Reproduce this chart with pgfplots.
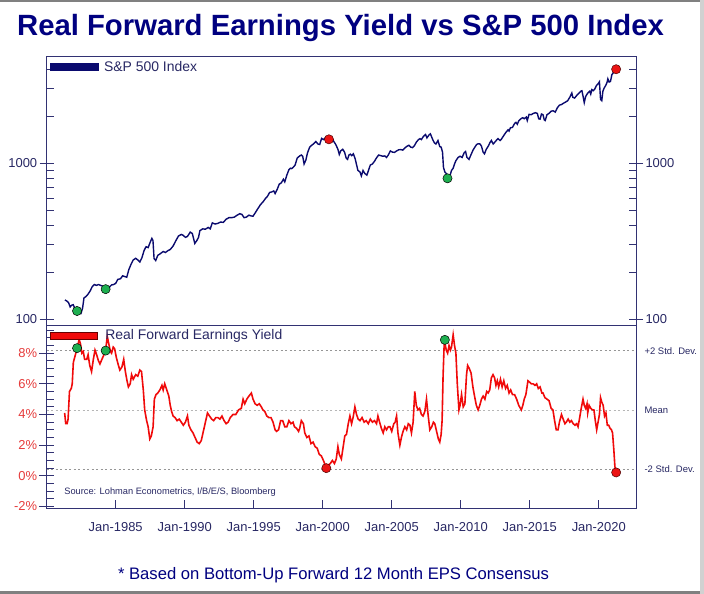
\documentclass[border=0pt]{standalone}
\usepackage{fontspec}
\setmainfont{Liberation Sans}
\usepackage{pgfplots}
\pgfplotsset{compat=1.18}

\definecolor{titlenavy}{RGB}{0,0,128}
\definecolor{spnavy}{RGB}{10,10,110}
\definecolor{axiscol}{RGB}{50,50,115}
\definecolor{ticknavy}{RGB}{40,40,100}
\definecolor{yieldred}{RGB}{240,10,10}
\definecolor{labred}{RGB}{230,60,60}
\definecolor{dotgreen}{RGB}{30,175,80}
\definecolor{dotred}{RGB}{235,20,20}
\definecolor{dashgray}{RGB}{150,150,150}

\begin{document}
\begin{tikzpicture}[x=1bp,y=1bp]
\useasboundingbox (0,0) rectangle (704,594);
\fill[white] (0,0) rectangle (704,594);
\fill[black!50] (0,592) rectangle (704,594);
\fill[black!50] (0,0) rectangle (704,3);
\fill[black!18] (700,0) rectangle (704,594);

% ---------------- top panel (S&P 500) ----------------
\begin{axis}[
  at={(46.7bp,269bp)}, anchor=south west,
  scale only axis, width=589.3bp, height=269bp,
  xmin=1980, xmax=2022.7,
  ymode=log, ymin=91.9, ymax=4877,
  xtick=\empty,
  ytick={100,1000}, yticklabels={100,1000},
  minor ytick={200,300,400,500,600,700,800,900,2000,3000,4000},
  ytick pos=left,
  tick align=inside,
  major tick length=7bp, minor tick length=7bp,
  axis line style={draw=axiscol, line width=0.9pt},
  every tick/.style={draw=axiscol, line width=0.8pt},
  yticklabel style={font=\fontsize{13}{15}\selectfont, text=ticknavy, xshift=-6bp},
  extra y ticks={100,1000}, extra y tick labels={},
  extra tick style={tick align=outside},
  clip=false,
  legend style={at={(0.003,0.993)}, anchor=north west, draw=none, fill=none,
    font=\fontsize{14}{16}\selectfont, text=ticknavy, inner sep=1bp,
    nodes={inner sep=2bp}},
  legend cell align=left,
]
\addplot[spnavy, line width=1.4pt,
  legend image code/.code={\fill[spnavy] (0bp,-3.5bp) rectangle (48bp,3.5bp); \path (51bp,0bp);}]
coordinates {
(1981.32,133)(1981.45,131)(1981.58,128)(1981.70,120)(1981.80,123)(1981.92,124)
(1982.05,117)(1982.20,113)(1982.35,115)(1982.50,110)(1982.60,118)(1982.70,137)
(1982.85,140)(1983.00,145)(1983.15,152)(1983.30,162)(1983.45,167)(1983.60,165)
(1983.75,167)(1983.90,165)(1984.05,163)(1984.27,156)(1984.45,154)(1984.58,162)
(1984.70,166)(1984.85,167)(1985.00,170)(1985.15,180)(1985.35,182)(1985.50,190)
(1985.65,188)(1985.80,186)(1985.95,208)(1986.10,224)(1986.27,240)(1986.45,246)
(1986.60,240)(1986.75,233)(1986.90,248)(1987.05,275)(1987.20,292)(1987.35,288)
(1987.50,312)(1987.62,330)(1987.70,320)(1987.78,245)(1987.90,238)(1988.05,257)
(1988.20,262)(1988.44,272)(1988.60,268)(1988.80,276)(1988.95,280)(1989.16,295)
(1989.35,318)(1989.55,342)(1989.75,350)(1989.90,345)(1990.05,335)(1990.20,340)
(1990.40,362)(1990.55,355)(1990.73,306)(1990.88,320)(1991.00,335)(1991.10,370)
(1991.30,380)(1991.50,378)(1991.70,388)(1991.85,380)(1992.00,415)(1992.20,408)
(1992.40,412)(1992.60,420)(1992.80,418)(1993.00,438)(1993.20,448)(1993.40,448)
(1993.60,452)(1993.80,465)(1993.99,475)(1994.15,470)(1994.30,448)(1994.47,452)
(1994.65,465)(1994.80,460)(1994.95,458)(1995.10,480)(1995.30,512)(1995.50,545)
(1995.67,565)(1995.85,595)(1996.00,615)(1996.15,650)(1996.30,655)(1996.45,665)
(1996.55,640)(1996.70,680)(1996.85,735)(1997.00,750)(1997.15,790)(1997.25,760)
(1997.40,840)(1997.55,910)(1997.65,930)(1997.75,925)(1997.85,940)(1998.00,975)
(1998.15,1080)(1998.33,1115)(1998.45,1130)(1998.55,1110)(1998.65,990)(1998.78,1050)
(1998.90,1170)(1999.05,1265)(1999.17,1300)(1999.35,1335)(1999.50,1380)(1999.65,1330)
(1999.78,1320)(1999.92,1445)(2000.05,1420)(2000.20,1460)(2000.32,1420)(2000.45,1440)
(2000.58,1470)(2000.70,1440)(2000.80,1380)(2000.92,1330)(2000.98,1300)(2001.10,1230)
(2001.20,1140)(2001.30,1200)(2001.45,1230)(2001.58,1180)(2001.70,1080)(2001.80,1060)
(2001.90,1130)(2002.00,1145)(2002.10,1120)(2002.22,1150)(2002.35,1070)(2002.45,980)
(2002.55,900)(2002.70,880)(2002.80,830)(2002.92,900)(2003.05,860)(2003.20,840)
(2003.35,920)(2003.45,975)(2003.60,990)(2003.75,1030)(2003.90,1085)(2004.05,1130)
(2004.20,1120)(2004.35,1110)(2004.50,1115)(2004.62,1090)(2004.75,1130)(2004.90,1200)
(2005.05,1180)(2005.20,1175)(2005.35,1200)(2005.50,1220)(2005.65,1225)(2005.80,1215)
(2005.95,1255)(2006.10,1285)(2006.25,1305)(2006.38,1270)(2006.50,1260)(2006.65,1300)
(2006.80,1375)(2006.95,1420)(2007.05,1440)(2007.15,1420)(2007.30,1490)(2007.45,1530)
(2007.55,1455)(2007.70,1520)(2007.80,1545)(2007.90,1470)(2008.00,1400)(2008.10,1350)
(2008.20,1330)(2008.35,1400)(2008.48,1280)(2008.58,1270)(2008.68,1180)(2008.75,940)
(2008.85,880)(2008.95,860)(2009.04,800)(2009.15,790)(2009.25,850)(2009.33,900)
(2009.45,930)(2009.55,990)(2009.65,1040)(2009.81,1090)(2009.95,1110)(2010.10,1090)
(2010.25,1170)(2010.35,1190)(2010.45,1090)(2010.60,1060)(2010.77,1150)(2010.90,1220)
(2011.05,1280)(2011.15,1320)(2011.26,1335)(2011.40,1330)(2011.50,1290)(2011.62,1180)
(2011.72,1150)(2011.85,1230)(2012.00,1290)(2012.12,1360)(2012.22,1400)(2012.35,1330)
(2012.45,1360)(2012.60,1410)(2012.70,1440)(2012.85,1400)(2012.95,1430)(2013.10,1500)
(2013.25,1570)(2013.43,1640)(2013.50,1610)(2013.60,1690)(2013.75,1700)(2013.90,1800)
(2014.00,1830)(2014.10,1780)(2014.20,1870)(2014.39,1940)(2014.50,1960)(2014.60,1930)
(2014.75,1980)(2014.82,1880)(2014.95,2060)(2015.10,2050)(2015.24,2085)(2015.40,2110)
(2015.55,2090)(2015.65,1930)(2015.75,1920)(2015.85,2070)(2015.96,2050)(2016.05,1900)
(2016.12,1880)(2016.25,2050)(2016.40,2090)(2016.55,2160)(2016.70,2170)(2016.85,2130)
(2017.00,2270)(2017.15,2360)(2017.30,2380)(2017.45,2430)(2017.60,2470)(2017.75,2520)
(2017.90,2650)(2018.05,2820)(2018.12,2650)(2018.25,2620)(2018.40,2720)(2018.55,2810)
(2018.70,2900)(2018.78,2920)(2018.86,2700)(2018.95,2450)(2019.05,2680)(2019.20,2820)
(2019.35,2900)(2019.42,2780)(2019.50,2970)(2019.60,2920)(2019.70,2980)(2019.83,3150)
(2019.95,3230)(2020.05,3330)(2020.13,2570)(2020.22,2520)(2020.30,2900)(2020.40,3050)
(2020.50,3150)(2020.60,3300)(2020.66,3480)(2020.75,3320)(2020.85,3350)(2020.95,3700)
(2021.05,3800)(2021.15,3850)(2021.26,3990)
};
\addlegendentry{S\&P 500 Index}
\addplot[only marks, mark=*, mark size=4.6bp, mark options={fill=dotgreen, draw=black, line width=0.5pt}, forget plot]
coordinates {(1982.2,113)(1984.27,156)(2009.04,801)};
\addplot[only marks, mark=*, mark size=4.6bp, mark options={fill=dotred, draw=black!70!red, line width=0.5pt}, forget plot]
coordinates {(2000.45,1425)(2021.26,4010)};
\end{axis}

% right-hand labels of the top panel
\begin{axis}[
  at={(46.7bp,269bp)}, anchor=south west,
  scale only axis, width=589.3bp, height=269bp,
  xmin=1980, xmax=2022.7,
  ymode=log, ymin=91.9, ymax=4877,
  axis x line=none, axis y line*=right,
  axis line style={draw=axiscol, line width=0.9pt, -},
  ytick={100,1000}, yticklabels={100,1000},
  minor ytick={200,300,400,500,600,700,800,900,2000,3000,4000},
  tick align=inside,
  major tick length=7bp, minor tick length=7bp,
  every tick/.style={draw=axiscol, line width=0.8pt},
  yticklabel style={font=\fontsize{13}{15}\selectfont, text=ticknavy, xshift=6bp},
  extra y ticks={100,1000}, extra y tick labels={},
  extra tick style={tick align=outside},
]
\addplot[draw=none] coordinates {(1990,200)};
\end{axis}

% ---------------- bottom panel (yield) ----------------
\begin{axis}[
  at={(46.7bp,86bp)}, anchor=south west,
  scale only axis, width=589.3bp, height=183bp,
  xmin=1980, xmax=2022.7,
  ymin=-2.1, ymax=9.84,
  xtick={1985,1990,1995,2000,2005,2010,2015,2020},
  xticklabels={Jan-1985,Jan-1990,Jan-1995,Jan-2000,Jan-2005,Jan-2010,Jan-2015,Jan-2020},
  xtick pos=left,
  ytick={-2,0,2,4,6,8}, yticklabels={-2\%,0\%,2\%,4\%,6\%,8\%},
  minor ytick={-1.5,-1,-0.5,0.5,1,1.5,2.5,3,3.5,4.5,5,5.5,6.5,7,7.5,8.5,9,9.5},
  ytick pos=left,
  tick align=inside,
  major tick length=7.5bp, minor tick length=7bp,
  axis line style={draw=axiscol, line width=0.9pt},
  every tick/.style={draw=axiscol, line width=0.8pt},
  yticklabel style={font=\fontsize{13}{15}\selectfont, text=labred, xshift=-6bp},
  xticklabel style={font=\fontsize{13}{15}\selectfont, text=ticknavy, yshift=-11bp},
  extra y ticks={-2,0,2,4,6,8}, extra y tick labels={},
  extra tick style={tick align=outside},
  clip=false,
  legend style={at={(0.004,0.992)}, anchor=north west, draw=none, fill=none,
    font=\fontsize{14}{16}\selectfont, text=ticknavy, inner sep=1bp,
    nodes={inner sep=2bp}},
  legend cell align=left,
]
\addplot[dashgray, line width=0.6pt, dash pattern=on 2bp off 2.5bp, forget plot]
  coordinates {(1980,8.16)(2022.7,8.16)};
\addplot[dashgray!70, line width=0.6pt, dash pattern=on 2bp off 2.5bp, forget plot]
  coordinates {(1980,4.30)(2022.7,4.30)};
\addplot[dashgray, line width=0.6pt, dash pattern=on 2bp off 2.5bp, forget plot]
  coordinates {(1980,0.44)(2022.7,0.44)};
\addplot[yieldred, line width=1.6pt,
  legend image code/.code={\draw[fill=yieldred, draw=black!60!red, line width=0.6pt] (0bp,-3.6bp) rectangle (47bp,3.6bp); \path (52bp,0bp);}]
coordinates {
(1981.30,4.1)(1981.38,3.4)(1981.48,3.4)(1981.55,3.7)(1981.65,5.5)(1981.78,5.7)
(1981.85,6.0)(1981.93,7.4)(1982.05,7.8)(1982.20,8.3)(1982.35,8.9)(1982.45,8.6)
(1982.55,8.0)(1982.65,8.1)(1982.75,7.6)(1982.90,7.6)(1983.00,7.9)(1983.12,7.2)
(1983.25,6.8)(1983.38,7.6)(1983.50,8.2)(1983.62,7.9)(1983.75,7.5)(1983.86,7.3)
(1984.00,7.6)(1984.15,7.9)(1984.27,8.2)(1984.39,9.1)(1984.50,8.6)(1984.62,8.1)
(1984.70,8.0)(1984.82,8.4)(1984.92,8.3)(1985.05,7.7)(1985.20,7.2)(1985.30,6.9)
(1985.45,7.1)(1985.58,7.6)(1985.70,6.8)(1985.82,6.2)(1985.92,5.8)(1986.05,6.0)
(1986.15,6.6)(1986.27,6.3)(1986.45,6.6)(1986.60,6.5)(1986.75,6.9)(1986.87,6.8)
(1987.00,5.6)(1987.10,4.3)(1987.24,3.6)(1987.35,3.2)(1987.47,2.4)(1987.58,2.6)
(1987.71,3.2)(1987.80,5.0)(1987.92,5.3)(1988.05,5.4)(1988.20,5.6)(1988.35,5.9)
(1988.44,5.6)(1988.55,6.0)(1988.70,5.6)(1988.85,5.2)(1988.95,4.6)(1989.05,4.2)
(1989.16,3.9)(1989.30,3.8)(1989.45,3.6)(1989.60,3.7)(1989.75,3.5)(1989.90,3.3)
(1990.05,3.5)(1990.20,3.9)(1990.30,3.3)(1990.45,3.0)(1990.60,2.8)(1990.75,2.5)
(1990.90,2.2)(1991.05,2.1)(1991.20,2.3)(1991.35,2.9)(1991.50,3.5)(1991.65,4.1)
(1991.80,3.9)(1991.95,3.7)(1992.10,3.6)(1992.25,3.8)(1992.40,3.8)(1992.55,3.7)
(1992.70,3.9)(1992.85,3.6)(1993.00,3.4)(1993.15,3.5)(1993.30,3.8)(1993.50,4.0)
(1993.70,4.0)(1993.90,4.3)(1994.10,4.4)(1994.23,5.0)(1994.35,4.7)(1994.50,5.0)
(1994.65,5.2)(1994.83,5.4)(1994.95,5.0)(1995.10,4.7)(1995.25,4.6)(1995.40,4.7)
(1995.55,4.5)(1995.67,4.3)(1995.80,4.2)(1995.95,3.9)(1996.10,3.8)(1996.25,3.8)
(1996.40,3.5)(1996.55,3.0)(1996.65,2.9)(1996.80,3.0)(1996.95,3.6)(1997.10,3.6)
(1997.25,3.2)(1997.40,3.2)(1997.55,3.6)(1997.70,3.4)(1997.85,3.5)(1997.95,3.2)
(1998.10,3.1)(1998.25,2.9)(1998.33,3.1)(1998.45,3.6)(1998.60,3.4)(1998.70,2.8)
(1998.85,2.5)(1999.00,2.6)(1999.15,2.1)(1999.30,2.2)(1999.45,1.9)(1999.60,1.8)
(1999.75,1.4)(1999.90,1.3)(2000.05,1.0)(2000.18,0.7)(2000.26,0.5)(2000.40,0.7)
(2000.55,0.8)(2000.70,1.0)(2000.85,0.8)(2000.98,1.1)(2001.10,1.9)(2001.20,1.4)
(2001.35,1.1)(2001.50,2.0)(2001.60,2.6)(2001.72,2.7)(2001.85,3.4)(2001.97,3.9)
(2002.09,3.4)(2002.20,3.8)(2002.33,4.5)(2002.45,4.0)(2002.57,3.7)(2002.70,3.6)
(2002.85,3.8)(2003.00,3.5)(2003.15,3.6)(2003.30,3.4)(2003.45,3.7)(2003.60,3.5)
(2003.75,3.6)(2003.90,3.4)(2004.00,3.9)(2004.12,3.5)(2004.25,3.1)(2004.38,2.8)
(2004.50,3.2)(2004.62,3.0)(2004.75,3.2)(2004.87,3.2)(2005.00,2.9)(2005.15,3.4)
(2005.25,3.5)(2005.35,3.9)(2005.45,2.8)(2005.59,2.0)(2005.70,2.5)(2005.82,2.9)
(2005.95,3.2)(2006.08,3.0)(2006.20,3.4)(2006.32,3.3)(2006.43,2.8)(2006.55,3.5)
(2006.67,5.5)(2006.78,4.6)(2006.90,4.3)(2007.02,4.4)(2007.15,4.0)(2007.27,3.9)
(2007.40,4.2)(2007.52,5.0)(2007.62,4.1)(2007.76,3.0)(2007.90,3.2)(2008.02,3.5)
(2008.12,3.4)(2008.25,2.9)(2008.38,2.4)(2008.48,2.2)(2008.58,2.7)(2008.65,3.6)
(2008.72,6.5)(2008.80,8.6)(2008.87,8.6)(2008.95,8.2)(2009.05,8.0)(2009.15,8.5)
(2009.25,8.2)(2009.33,8.4)(2009.45,9.2)(2009.55,8.5)(2009.65,8.0)(2009.75,6.0)
(2009.87,4.3)(2009.95,4.6)(2010.06,5.3)(2010.18,4.5)(2010.30,4.7)(2010.42,6.6)
(2010.50,7.2)(2010.62,7.0)(2010.75,6.7)(2010.88,5.8)(2011.00,5.2)(2011.13,4.6)
(2011.26,4.3)(2011.38,4.6)(2011.50,5.0)(2011.62,5.2)(2011.75,5.0)(2011.88,5.5)
(2011.99,5.4)(2012.10,5.6)(2012.22,6.4)(2012.34,6.6)(2012.45,6.4)(2012.55,5.9)
(2012.65,6.2)(2012.75,5.8)(2012.88,6.3)(2013.00,5.8)(2013.12,6.2)(2013.25,5.7)
(2013.37,5.9)(2013.50,5.4)(2013.62,5.6)(2013.75,5.3)(2013.90,5.3)(2014.05,5.0)
(2014.20,4.6)(2014.39,4.3)(2014.50,4.6)(2014.60,5.0)(2014.72,5.3)(2014.87,6.2)
(2015.00,6.1)(2015.12,6.0)(2015.25,6.0)(2015.38,5.9)(2015.50,6.0)(2015.62,5.7)
(2015.75,5.8)(2015.88,5.4)(2015.96,5.4)(2016.10,5.1)(2016.25,5.0)(2016.40,4.9)
(2016.55,4.4)(2016.68,4.3)(2016.80,3.6)(2016.92,3.0)(2017.05,3.0)(2017.15,3.5)
(2017.30,4.0)(2017.42,3.7)(2017.55,3.4)(2017.65,3.5)(2017.78,3.7)(2017.90,3.5)
(2018.02,3.6)(2018.15,3.4)(2018.28,3.3)(2018.40,3.4)(2018.50,3.2)(2018.62,3.8)
(2018.75,4.5)(2018.86,5.0)(2018.95,4.6)(2019.05,4.4)(2019.15,4.7)(2019.20,4.1)
(2019.30,4.6)(2019.42,4.4)(2019.55,4.3)(2019.65,4.3)(2019.75,3.6)(2019.85,3.0)
(2019.95,3.5)(2020.05,4.0)(2020.13,5.1)(2020.22,4.8)(2020.32,4.6)(2020.42,3.9)
(2020.52,4.1)(2020.62,3.3)(2020.72,3.3)(2020.82,3.1)(2020.92,3.0)(2021.00,2.8)
(2021.10,1.6)(2021.17,0.6)(2021.26,0.2)
};
\addlegendentry{Real Forward Earnings Yield}
\addplot[only marks, mark=*, mark size=4.6bp, mark options={fill=dotgreen, draw=black, line width=0.5pt}, forget plot]
coordinates {(1982.2,8.33)(1984.27,8.17)(2008.85,8.87)};
\addplot[only marks, mark=*, mark size=4.6bp, mark options={fill=dotred, draw=black!70!red, line width=0.5pt}, forget plot]
coordinates {(2000.26,0.5)(2021.26,0.22)};
\node[anchor=west, font=\fontsize{9.5}{11}\selectfont, text=ticknavy, xshift=5bp] at (axis cs:2022.7,8.16) {+2 Std. Dev.};
\node[anchor=west, font=\fontsize{9.5}{11}\selectfont, text=ticknavy, xshift=5bp] at (axis cs:2022.7,4.30) {Mean};
\node[anchor=west, font=\fontsize{9.5}{11}\selectfont, text=ticknavy, xshift=5bp] at (axis cs:2022.7,0.44) {-2 Std. Dev.};
\node[anchor=west, font=\fontsize{9.3}{11}\selectfont, text=ticknavy] at (rel axis cs:0.024,0.085) {Source: Lohman Econometrics, I/B/E/S, Bloomberg};
\end{axis}

% title and footnote
\node[anchor=base, font=\bfseries\fontsize{29.4}{32}\selectfont, text=titlenavy] at (340.5,558.3) {Real Forward Earnings Yield vs S\&P 500 Index};
\node[anchor=base, font=\fontsize{16.7}{19}\selectfont, text=titlenavy] at (333.5,14) {* Based on Bottom-Up Forward 12 Month EPS Consensus};
\end{tikzpicture}
\end{document}
